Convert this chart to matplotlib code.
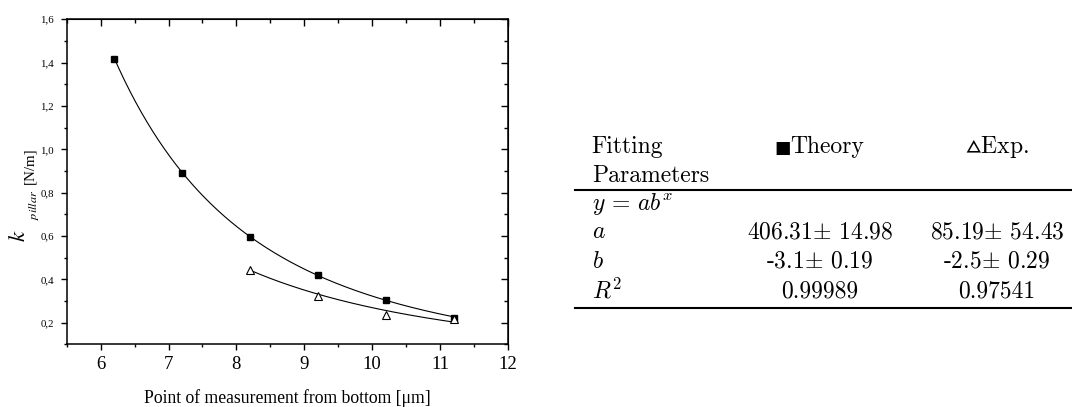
import numpy as np
import matplotlib.pyplot as plt
from matplotlib.ticker import MultipleLocator, FuncFormatter

# data
theory_x = [6.2, 7.2, 8.2, 9.2, 10.2, 11.2]
theory_y = [1.415, 0.892, 0.597, 0.418, 0.305, 0.220]
exp_x = [8.2, 9.2, 10.2, 11.2]
exp_y = [0.443, 0.323, 0.237, 0.218]

# fit parameters from the table (y = a * x**b)
theory_a, theory_b = 406.31, -3.1
exp_a, exp_b = 85.19, -2.5

# table contents
table_head = ["Fitting", "Theory", r"$\vartriangle$Exp."]
table_rows = [
    ["Parameters", "", ""],
    [r"$y\,=\,ab^x$", "", ""],
    [r"$a$", r"406.31$\pm$ 14.98", r"85.19$\pm$ 54.43"],
    [r"$b$", r"-3.1$\pm$ 0.19", r"-2.5$\pm$ 0.29"],
    [r"$R^2$", "0.99989", "0.97541"],
]

plt.rcParams['font.family'] = ['Liberation Serif', 'DejaVu Serif']
plt.rcParams['mathtext.fontset'] = 'stix'

fig = plt.figure(figsize=(10.72, 4.07), dpi=100)
ax = fig.add_axes([0.0622, 0.1538, 0.4117, 0.799])

# fitted curves
xt = np.linspace(theory_x[0], theory_x[-1], 300)
ax.plot(xt, theory_a * xt ** theory_b, color='black', lw=0.8, zorder=2)
xe = np.linspace(exp_x[0], exp_x[-1], 300)
ax.plot(xe, exp_a * xe ** exp_b, color='black', lw=0.8, zorder=2)

# points
ax.plot(theory_x, theory_y, 's', color='black', ms=5, zorder=3)
ax.plot(exp_x, exp_y, '^', mfc='white', mec='black', mew=0.8, ms=6, zorder=4)

ax.set_xlim(5.5, 12)
ax.set_ylim(0.1, 1.6)
ax.xaxis.set_major_locator(MultipleLocator(1))
ax.xaxis.set_minor_locator(MultipleLocator(0.5))
ax.yaxis.set_major_locator(MultipleLocator(0.2))
ax.yaxis.set_minor_locator(MultipleLocator(0.1))
ax.yaxis.set_major_formatter(FuncFormatter(lambda v, p: f'{v:.1f}'.replace('.', ',')))

for s in ax.spines.values():
    s.set_linewidth(1.1)

ax.tick_params(which='both', direction='out', width=1.0)
ax.tick_params(which='major', length=4)
ax.tick_params(which='minor', length=2.5)
ax.tick_params(axis='x', labelsize=13.5, pad=4)
ax.tick_params(axis='y', labelsize=7.8, pad=5)

# inward ticks on top and right
top = ax.secondary_xaxis('top')
top.xaxis.set_major_locator(MultipleLocator(1))
top.xaxis.set_minor_locator(MultipleLocator(0.5))
top.tick_params(which='both', direction='in', width=1.0, labeltop=False)
top.tick_params(which='major', length=4.8)
top.tick_params(which='minor', length=3)
right = ax.secondary_yaxis('right')
right.yaxis.set_major_locator(MultipleLocator(0.2))
right.yaxis.set_minor_locator(MultipleLocator(0.1))
right.tick_params(which='both', direction='in', width=1.0, labelright=False)
right.tick_params(which='major', length=4.8)
right.tick_params(which='minor', length=3)

ax.set_xlabel("Point of measurement from bottom [μm]", fontsize=12.7, labelpad=12)

# overlay in pixel coordinates for the y label pieces and the table
tax = fig.add_axes([0, 0, 1, 1])
tax.set_xlim(0, 1072)
tax.set_ylim(407, 0)
tax.axis('off')

rot = dict(rotation=90, rotation_mode='anchor', ha='left', va='baseline')
tax.text(25, 242, r"$k$", fontsize=16.5, **rot)
tax.text(37, 220, r"$pillar$", fontsize=8.8, **rot)
tax.text(33.5, 184, "[N/m]", fontsize=10.8, **rot)

fs = 17
col_x = [591.7, 820, 997]
col_ha = ['left', 'center', 'center']
tfont = dict(fontsize=fs, family=['cmr10', 'DejaVu Sans'], math_fontfamily='cm')

for j, txt in enumerate(table_head):
    if j == 1:
        tax.text(790, 153, txt, ha='left', va='baseline', **tfont)
        tax.text(774, 153, "■", ha='left', va='baseline', fontsize=12.5,
                 family='DejaVu Sans')
    else:
        tax.text(col_x[j], 153, txt, ha=col_ha[j], va='baseline', **tfont)
row_y = [181.7, 210, 238.5, 268, 298]
for i, row in enumerate(table_rows):
    for j, txt in enumerate(row):
        if txt:
            tax.text(col_x[j], row_y[i], txt, ha=col_ha[j], va='baseline', **tfont)

tax.plot([575, 1072], [190, 190], color='black', lw=1.5)
tax.plot([575, 1072], [308, 308], color='black', lw=1.5)

fig.savefig('out.png', dpi=100)
